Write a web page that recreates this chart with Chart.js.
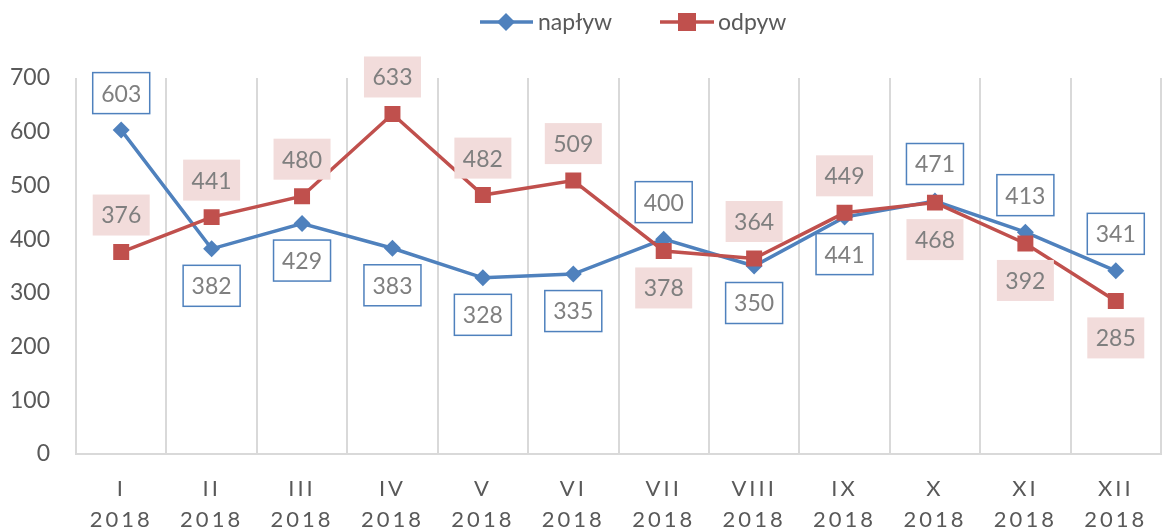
<!DOCTYPE html>
<html>
<head>
<meta charset="utf-8">
<script src="https://cdn.jsdelivr.net/npm/chart.js@4.4.1/dist/chart.umd.min.js"></script>
<style>
  html, body { margin: 0; background: #fff; }
  #wrap { width: 1162px; height: 531px; }
</style>
</head>
<body>
<div id="wrap"><canvas id="chart" width="1162" height="531"></canvas></div>
<script>
// --- Data ---
const months = ['I', 'II', 'III', 'IV', 'V', 'VI', 'VII', 'VIII', 'IX', 'X', 'XI', 'XII'];
const years = ['2018', '2018', '2018', '2018', '2018', '2018', '2018', '2018', '2018', '2018', '2018', '2018'];
const naplyw = [603, 382, 429, 383, 328, 335, 400, 350, 441, 471, 413, 341];
const odpyw = [376, 441, 480, 633, 482, 509, 378, 364, 449, 468, 392, 285];
const yTicks = [0, 100, 200, 300, 400, 500, 600, 700];

// where each value label sits relative to its point
const naplywSide = ['up', 'down', 'down', 'down', 'down', 'down', 'up', 'down', 'down', 'up', 'up', 'up'];
const odpywSide = ['up', 'up', 'up', 'up', 'up', 'up', 'down', 'up', 'up', 'down', 'down', 'down'];

const BLUE = '#4f81bd';
const RED = '#c0504d';
const PINK = '#f2dcdb';
const FONT = 'Lato';
const PLOT_RIGHT = 1161;

// --- Value labels (boxes) ---
const valueLabels = {
  id: 'valueLabels',
  afterDatasetsDraw(chart) {
    const ctx = chart.ctx;
    chart.data.datasets.forEach((ds, di) => {
      const meta = chart.getDatasetMeta(di);
      meta.data.forEach((pt, i) => {
        const cx = pt.x;
        const cy = pt.y + (ds.labelSide[i] === 'up' ? -37 : 37);
        const w = 57, h = 41;
        ctx.save();
        if (ds.boxStyle === 'outline') {
          ctx.fillStyle = '#fff';
          ctx.fillRect(cx - w / 2, cy - h / 2, w, h);
          ctx.strokeStyle = BLUE;
          ctx.lineWidth = 1.5;
          ctx.strokeRect(cx - w / 2, cy - h / 2, w, h);
        } else {
          ctx.fillStyle = PINK;
          ctx.fillRect(cx - w / 2, cy - h / 2, w, h);
        }
        ctx.fillStyle = '#7f7f7f';
        ctx.font = '23px ' + FONT;
        ctx.textAlign = 'center';
        ctx.textBaseline = 'middle';
        ctx.fillText(String(ds.data[i]), cx, cy + 1);
        ctx.restore();
      });
    });
  }
};

// --- Legend drawn by hand (line + marker) ---
const lineLegend = {
  id: 'lineLegend',
  afterDraw(chart) {
    const ctx = chart.ctx;
    const y = 22;
    ctx.save();
    ctx.lineWidth = 3.5;
    // napływ
    ctx.strokeStyle = BLUE;
    ctx.beginPath(); ctx.moveTo(480, y); ctx.lineTo(533, y); ctx.stroke();
    ctx.fillStyle = BLUE;
    ctx.beginPath();
    ctx.moveTo(506, y - 9); ctx.lineTo(515, y); ctx.lineTo(506, y + 9); ctx.lineTo(497, y);
    ctx.closePath(); ctx.fill();
    // odpyw
    ctx.strokeStyle = RED;
    ctx.beginPath(); ctx.moveTo(660, y); ctx.lineTo(714, y); ctx.stroke();
    ctx.fillStyle = RED;
    ctx.fillRect(678, y - 9, 18, 18);
    ctx.fillStyle = '#595959';
    ctx.font = '23px ' + FONT;
    ctx.textAlign = 'left';
    ctx.textBaseline = 'middle';
    ctx.fillText('napływ', 538, y + 1);
    ctx.fillText('odpyw', 718, y + 1);
    ctx.restore();
  }
};

// stretch the plot to the right edge and space out the x tick labels
const xAxisTweaks = {
  id: 'xAxisTweaks',
  afterLayout(chart) {
    const s = chart.scales.x;
    const area = chart.chartArea;
    s.right = PLOT_RIGHT;
    s.width = PLOT_RIGHT - s.left;
    area.right = PLOT_RIGHT;
    area.width = PLOT_RIGHT - area.left;
    s.configure();
    if (s._spaced) return;
    const orig = s.drawLabels;
    s.drawLabels = function (a) {
      chart.ctx.save();
      chart.ctx.letterSpacing = '3px';
      orig.call(this, a);
      chart.ctx.restore();
    };
    s._spaced = true;
  }
};

new Chart(document.getElementById('chart'), {
  type: 'line',
  data: {
    labels: months.map((m, i) => [m, years[i]]),
    datasets: [
      {
        label: 'napływ',
        data: naplyw,
        labelSide: naplywSide,
        boxStyle: 'outline',
        borderColor: BLUE,
        backgroundColor: BLUE,
        borderWidth: 3.5,
        pointStyle: 'rectRot',
        pointRadius: 8.5,
        pointBorderWidth: 0,
        tension: 0,
        order: 1
      },
      {
        label: 'odpyw',
        data: odpyw,
        labelSide: odpywSide,
        boxStyle: 'fill',
        borderColor: RED,
        backgroundColor: RED,
        borderWidth: 3.5,
        pointStyle: 'rect',
        pointRadius: 11.3,
        pointBorderWidth: 0,
        tension: 0,
        order: 0
      }
    ]
  },
  options: {
    responsive: false,
    animation: false,
    layout: { padding: { top: 78, right: 1, bottom: 0, left: 0 } },
    plugins: {
      legend: { display: false },
      tooltip: { enabled: false }
    },
    scales: {
      x: {
        offset: true,
        grid: { offset: true, color: '#d9d9d9', lineWidth: 2, drawTicks: false },
        border: { color: '#d9d9d9', width: 2 },
        ticks: {
          color: '#595959',
          font: { family: FONT, size: 22, lineHeight: 1.4 },
          padding: 20,
          maxRotation: 0,
          autoSkip: false
        },
        afterFit(scale) {
          scale.height = 77;
          scale.paddingLeft = 0;
          scale.paddingRight = 0;
        }
      },
      y: {
        min: 0,
        max: 700,
        afterBuildTicks(scale) { scale.ticks = yTicks.map(v => ({ value: v })); },
        grid: { display: false, drawTicks: false },
        border: { display: false },
        ticks: {
          color: '#595959',
          font: { family: FONT, size: 23 },
          padding: 26
        },
        afterFit(scale) {
          scale.width = 76;
          scale.paddingTop = 0;
          scale.paddingBottom = 0;
        }
      }
    }
  },
  plugins: [valueLabels, lineLegend, xAxisTweaks]
});
</script>
</body>
</html>
